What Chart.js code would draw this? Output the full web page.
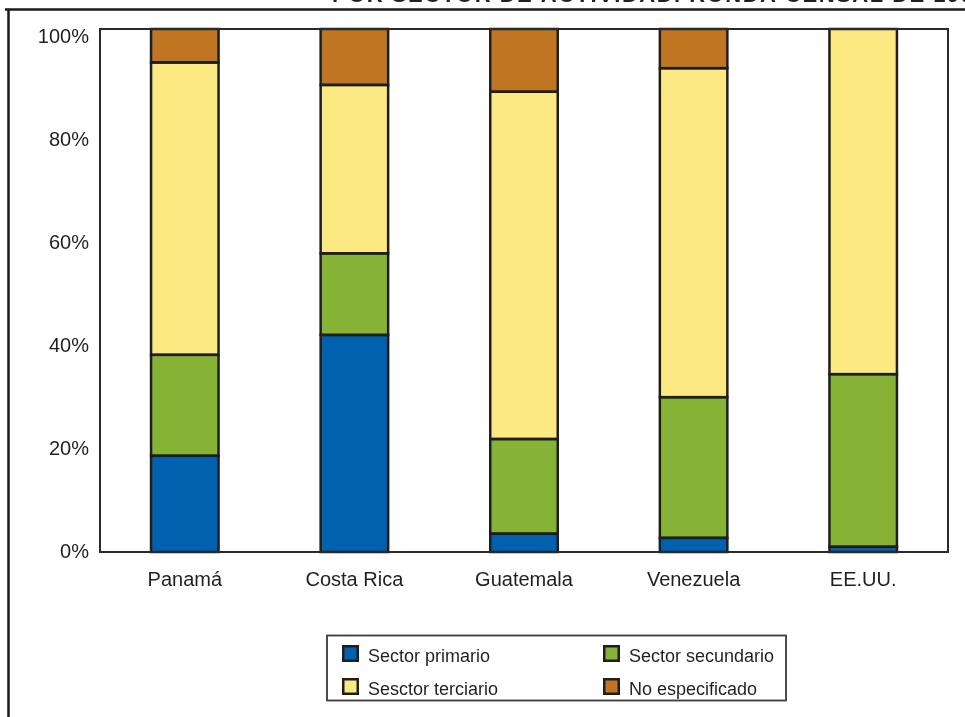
<!DOCTYPE html>
<html>
<head>
<meta charset="utf-8">
<script src="https://cdn.jsdelivr.net/npm/chart.js@4.4.1/dist/chart.umd.min.js"></script>
<style>
  html, body { margin: 0; padding: 0; background: #fff; }
  #c { display: block; width: 965px; height: 717px; }
</style>
</head>
<body>
<canvas id="c" width="965" height="717"></canvas>
<script>
// Employed population by sector of activity (% of total per country)
const categories = ['Panamá', 'Costa Rica', 'Guatemala', 'Venezuela', 'EE.UU.'];
const primario = [18.4, 41.5, 3.5, 2.7, 1.0];
const secundario = [19.3, 15.6, 18.1, 26.9, 33.0];
const terciario = [55.9, 32.2, 66.4, 62.9, 66.0];
const noEspecificado = [6.4, 10.7, 12.0, 7.5, 0];
const seriesNames = ['Sector primario', 'Sector secundario', 'Sesctor terciario', 'No especificado'];
const yTickValues = [0, 20, 40, 60, 80, 100];
const titleText = 'POR SECTOR DE ACTIVIDAD. RONDA CENSAL DE 1990';

const FONT = '"Liberation Sans", Arial, Helvetica, sans-serif';
const INK = '#231f20';
const EDGE = '#1e1e1e';
const colors = ['#0062ae', '#86b236', '#fde981', '#c07522'];
const series = [primario, secundario, terciario, noEspecificado];

const datasets = series.map((values, i) => ({
  label: seriesNames[i],
  data: values,
  backgroundColor: colors[i],
  borderWidth: 0,
  inflateAmount: 0,
  barPercentage: 0.398,
  categoryPercentage: 1.0
}));

// Outline every stacked segment with a single centred stroke
const segmentOutlines = {
  id: 'segmentOutlines',
  afterDatasetsDraw(chart) {
    const ctx = chart.ctx;
    ctx.save();
    ctx.strokeStyle = EDGE;
    ctx.lineWidth = 2.5;
    chart.data.datasets.forEach((ds, i) => {
      chart.getDatasetMeta(i).data.forEach(bar => {
        const p = bar.getProps(['x', 'y', 'base', 'width'], true);
        const h = Math.abs(p.base - p.y);
        if (h < 0.5) return;
        ctx.strokeRect(p.x - p.width / 2, Math.min(p.y, p.base), p.width, h);
      });
    });
    ctx.restore();
  }
};

// Page frame, title strip, plot outline and a two-column boxed legend
const decorations = {
  id: 'decorations',
  afterDraw(chart) {
    const ctx = chart.ctx;
    const a = chart.chartArea;
    ctx.save();

    // title (mostly clipped by the top of the page)
    ctx.fillStyle = INK;
    ctx.font = 'bold 22px ' + FONT;
    ctx.letterSpacing = '1.5px';
    ctx.textBaseline = 'alphabetic';
    ctx.textAlign = 'left';
    ctx.fillText(titleText, 332, 2);
    ctx.letterSpacing = '0px';

    // outer frame lines
    ctx.strokeStyle = '#1a1a1a';
    ctx.lineWidth = 2.5;
    ctx.beginPath();
    ctx.moveTo(5, 9.5);
    ctx.lineTo(965, 9.5);
    ctx.moveTo(8.5, 9.5);
    ctx.lineTo(8.5, 717);
    ctx.stroke();

    // plot outline
    ctx.strokeStyle = '#2a2a2a';
    ctx.lineWidth = 2;
    ctx.strokeRect(a.left, a.top, a.right - a.left, a.bottom - a.top);

    // legend box
    ctx.strokeStyle = '#3a3a3a';
    ctx.lineWidth = 1.8;
    ctx.strokeRect(327, 635.5, 459, 65);

    const cols = [342, 603];
    const rows = [653, 686];
    ctx.font = '18px ' + FONT;
    ctx.textBaseline = 'middle';
    chart.data.datasets.forEach((ds, i) => {
      const x = cols[i % 2];
      const y = rows[Math.floor(i / 2)];
      ctx.fillStyle = ds.backgroundColor;
      ctx.fillRect(x, y - 8, 17, 17);
      ctx.strokeStyle = EDGE;
      ctx.lineWidth = 2.5;
      ctx.strokeRect(x + 1.25, y - 6.75, 14.5, 14.5);
      ctx.fillStyle = INK;
      ctx.fillText(ds.label, x + 26, y + 4);
    });

    ctx.restore();
  }
};

new Chart(document.getElementById('c'), {
  type: 'bar',
  data: { labels: categories, datasets },
  options: {
    responsive: false,
    animation: false,
    layout: { padding: { top: 29, right: 17, bottom: 0, left: 0 } },
    plugins: {
      legend: { display: false },
      tooltip: { enabled: false },
      title: { display: false }
    },
    scales: {
      x: {
        stacked: true,
        grid: { display: false },
        border: { display: false },
        ticks: { color: INK, font: { family: FONT, size: 20 }, padding: 8, maxRotation: 0 },
        afterFit(scale) { scale.height = 165; }
      },
      y: {
        stacked: true,
        display: false,
        min: 0,
        max: 100
      },
      yl: {
        axis: 'y',
        position: 'left',
        min: 0,
        max: 101.6,
        grid: { display: false, drawTicks: false },
        border: { display: false },
        afterBuildTicks(scale) { scale.ticks = yTickValues.map(v => ({ value: v })); },
        ticks: {
          color: INK,
          font: { family: FONT, size: 20 },
          padding: 11,
          callback: v => v + '%'
        },
        afterFit(scale) { scale.width = 100; }
      }
    }
  },
  plugins: [segmentOutlines, decorations]
});
</script>
</body>
</html>
